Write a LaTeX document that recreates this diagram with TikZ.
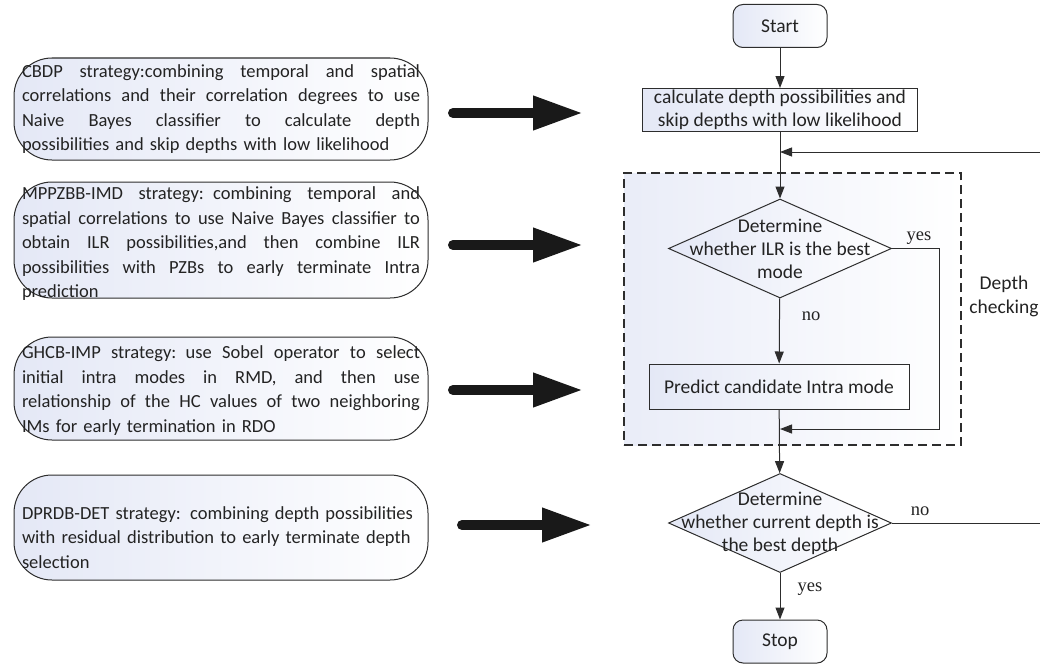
\documentclass[tikz,border=0pt]{standalone}
\usepackage{fontspec}
\setmainfont{Carlito}
\newfontfamily\serifl{Liberation Serif}
\usetikzlibrary{arrows.meta,shapes.geometric}
\definecolor{lb}{RGB}{228,232,246}
\definecolor{ln}{RGB}{45,45,45}
\definecolor{tx}{RGB}{35,35,35}
\newcommand\jline[1]{\leavevmode\hbox to 398pt{\spaceskip=0.22em plus 1fil minus 0.1em\relax #1}}
\begin{document}
\begin{tikzpicture}[x=1pt,y=-1pt,
  every node/.style={text=tx},
  strat/.style={draw=ln, line width=1pt, rounded corners=38pt, left color=lb, right color=white, minimum width=414pt, inner sep=0pt},
  stxt/.style={text width=398pt, align=left, inner sep=0pt, font=\fontsize{18.5}{24.5}\selectfont},
  term/.style={draw=ln, line width=1pt, rounded corners=10pt, minimum width=94pt, minimum height=43pt, left color=lb, right color=white, font=\fontsize{19.5}{23}\selectfont},
  proc/.style={draw=ln, line width=1pt, left color=lb, right color=white, font=\fontsize{19.5}{23}\selectfont, align=center, inner sep=0pt},
  dia/.style={diamond, draw=ln, line width=1pt, minimum width=223pt, minimum height=99pt, inner sep=0pt, left color=lb, right color=white},
  dtxt/.style={align=center, inner sep=0pt, font=\fontsize{19.5}{23}\selectfont},
  chkbox/.style={draw=ln, line width=1.2pt, dash pattern=on 9pt off 5pt, left color=lb!80, right color=white, minimum width=337pt, minimum height=272pt, inner sep=0pt},
  lab/.style={font=\serifl\fontsize{18.5}{20}\selectfont, inner sep=0pt},
  conn/.style={draw=ln, line width=1pt, -{Triangle[length=12pt,width=9pt]}},
  big/.style={draw=black!90, line width=10pt, line cap=round, -{Triangle[length=50pt,width=32pt]}}
]
\useasboundingbox (0,0) rectangle (1040,669);

% strategy boxes
\node[strat, minimum height=102pt, label={[stxt]center:\jline{CBDP strategy:combining temporal and spatial}\\
\jline{correlations and their correlation degrees to use}\\
\jline{Naive Bayes classifier to calculate depth}\\
possibilities and skip depths with low likelihood}] (s1) at (221,109) {};

\node[strat, minimum height=116pt, label={[stxt,yshift=-4pt]center:\jline{MPPZBB-IMD strategy: combining temporal and}\\
\jline{spatial correlations to use Naive Bayes classifier to}\\
\jline{obtain ILR possibilities,and then combine ILR}\\
\jline{possibilities with PZBs to early terminate Intra}\\
prediction}] (s2) at (221,240) {};

\node[strat, minimum height=103pt, label={[stxt,yshift=-2pt]center:\jline{GHCB-IMP strategy: use Sobel operator to select}\\
\jline{initial intra modes in RMD, and then use}\\
\jline{relationship of the HC values of two neighboring}\\
IMs for early termination in RDO}] (s3) at (221,388.5) {};

\node[strat, minimum height=105pt, label={[stxt,yshift=-10pt]center:DPRDB-DET strategy: combining depth possibilities\\
with residual distribution to early terminate depth\\
selection}] (s4) at (221,527.5) {};

% big arrows
\coordinate (a1s) at (453,113); \coordinate (a1e) at (583,113);
\coordinate (a2s) at (453,245); \coordinate (a2e) at (583,245);
\coordinate (a3s) at (453,390); \coordinate (a3e) at (583,390);
\coordinate (a4s) at (462,525); \coordinate (a4e) at (592,525);
\draw[big] (a1s) -- (a1e);
\draw[big] (a2s) -- (a2e);
\draw[big] (a3s) -- (a3e);
\draw[big] (a4s) -- (a4e);

% dashed group
\node[chkbox] (chk) at (792.5,309) {};
\node[align=center, inner sep=0pt, font=\fontsize{19.5}{24}\selectfont] (chklab) at (1004,296) {Depth\\checking};

% flowchart
\node[term] (start) at (780,26) {Start};
\node[proc, minimum width=275pt, minimum height=43pt] (calc) at (780,110) {calculate depth possibilities and\\skip depths with low likelihood};
\node[dia, label={[dtxt]center:Determine\\whether ILR is the best\\mode}] (d1) at (780,248.5) {};
\node[proc, minimum width=260pt, minimum height=45pt] (pred) at (779,386.5) {Predict candidate Intra mode};
\node[dia, label={[dtxt]center:Determine\\whether current depth is\\the best depth}] (d2) at (780,523) {};
\node[term] (stop) at (780,641.5) {Stop};

\coordinate (m0) at (780,152);
\coordinate (m1) at (780,429);
\coordinate (yc) at (939,429);
\coordinate (lt) at (1042,152);

\draw[conn] (start) -- (calc);
\draw[conn] (calc) -- (d1);
\draw[conn] (d1) -- (pred);
\draw[conn] (pred) -- (d2);
\draw[conn] (d2) -- (stop);
\draw[conn] (d1.east) -| (yc) -- (m1);
\draw[conn] (d2.east) -| (lt) -- (m0);

\node[lab] (y1) at (919,238) {yes};
\node[lab] (n1) at (811,316) {no};
\node[lab] (n2) at (920,511) {no};
\node[lab] (y2) at (810,589) {yes};
\end{tikzpicture}
\end{document}
